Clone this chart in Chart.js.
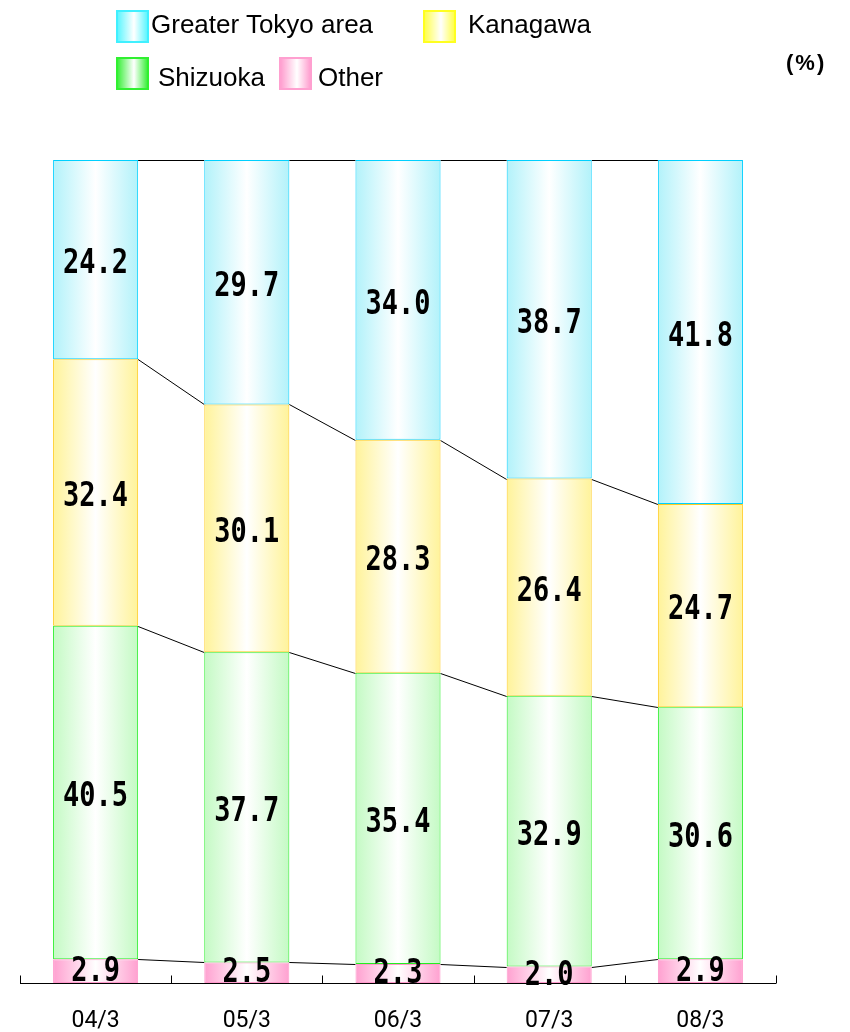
<!DOCTYPE html>
<html>
<head>
<meta charset="utf-8">
<script src="https://cdn.jsdelivr.net/npm/chart.js@4/dist/chart.umd.min.js"></script>
<style>
  html, body { margin: 0; padding: 0; background: #fff; }
  #wrap { position: relative; width: 850px; height: 1032px; overflow: hidden; }
  #c { position: absolute; left: 0; top: 0; }
  .lg-box { position: absolute; width: 33px; height: 33px; box-sizing: border-box; }
  .lg-txt { position: absolute; font-family: "Liberation Sans", Arial, sans-serif; font-size: 26px; color: #000; line-height: 30px; white-space: nowrap; }
  #unit { position: absolute; left: 786px; top: 49px; font-family: "Liberation Sans", Arial, sans-serif; font-size: 22px; font-weight: bold; letter-spacing: 2px; color: #000; line-height: 28px; }
</style>
</head>
<body>
<div id="wrap">
  <canvas id="c" width="850" height="1032"></canvas>
  <div class="lg-box" style="left:116px;top:10px;border:2px solid #40f0ff;background:linear-gradient(to right,#60f6ff,#ffffff 55%,#60f6ff);"></div>
  <div class="lg-txt" style="left:151px;top:9px;">Greater Tokyo area</div>
  <div class="lg-box" style="left:423px;top:10px;border:2px solid #ffff20;background:linear-gradient(to right,#ffff50,#ffffff 55%,#ffff50);"></div>
  <div class="lg-txt" style="left:468px;top:9px;">Kanagawa</div>
  <div class="lg-box" style="left:116px;top:57px;border:2px solid #30f030;background:linear-gradient(to right,#40f040,#ffffff 55%,#40f040);"></div>
  <div class="lg-txt" style="left:158px;top:62px;">Shizuoka</div>
  <div class="lg-box" style="left:279px;top:57px;border:2px solid #ffa0d0;background:linear-gradient(to right,#ffa0d0,#ffffff 55%,#ffa0d0);"></div>
  <div class="lg-txt" style="left:318px;top:62px;">Other</div>
  <div id="unit">(%)</div>
</div>
<script>
// ---- data ----
const categories = ["04/3", "05/3", "06/3", "07/3", "08/3"];
const seriesNames = ["Other", "Shizuoka", "Kanagawa", "Greater Tokyo area"];
const otherValues    = [2.9, 2.5, 2.3, 2.0, 2.9];
const shizuokaValues = [40.5, 37.7, 35.4, 32.9, 30.6];
const kanagawaValues = [32.4, 30.1, 28.3, 26.4, 24.7];
const tokyoValues    = [24.2, 29.7, 34.0, 38.7, 41.8];
const yMax = 100;

// ---- styles ----
const BAR_PCT = 0.5625;
const edgeColors   = ["#ffa0d0", "#c4fac4", "#fff39a", "#b2f2fa"];
const borderColors = ["#ff99cc", "#22ee22", "#ffcc22", "#00d0ff"];

function gradientFill(idx) {
  return function (ctx) {
    const chart = ctx.chart;
    const xs = chart.scales.x;
    if (!xs || !chart.chartArea) return edgeColors[idx];
    const cx = xs.getPixelForValue(ctx.dataIndex);
    const w = (xs.width / categories.length) * BAR_PCT;
    const g = chart.ctx.createLinearGradient(cx - w / 2, 0, cx + w / 2, 0);
    g.addColorStop(0, edgeColors[idx]);
    g.addColorStop(0.5, "#ffffff");
    g.addColorStop(1, edgeColors[idx]);
    return g;
  };
}

const valuesList = [otherValues, shizuokaValues, kanagawaValues, tokyoValues];
const datasets = valuesList.map((vals, i) => ({
  label: seriesNames[i],
  data: vals,
  backgroundColor: gradientFill(i),
  borderColor: borderColors[i],
  borderWidth: 1,
  borderSkipped: false,
  barPercentage: BAR_PCT,
  categoryPercentage: 1.0
}));

const connectorPlugin = {
  id: "connectors",
  beforeDatasetsDraw(chart) {
    const ctx = chart.ctx;
    ctx.save();
    ctx.strokeStyle = "#000";
    ctx.lineWidth = 1;
    chart.data.datasets.forEach((ds, d) => {
      const meta = chart.getDatasetMeta(d);
      for (let i = 0; i < meta.data.length - 1; i++) {
        const a = meta.data[i], b = meta.data[i + 1];
        ctx.beginPath();
        ctx.moveTo(a.x + a.width / 2, Math.round(a.y) + 0.5);
        ctx.lineTo(b.x - b.width / 2, Math.round(b.y) + 0.5);
        ctx.stroke();
      }
    });
    // axis line with inward ticks at category boundaries
    const xs = chart.scales.x;
    const area = chart.chartArea;
    const y0 = Math.round(area.bottom) + 0.5;
    ctx.beginPath();
    ctx.moveTo(area.left, y0);
    ctx.lineTo(area.right, y0);
    for (let i = 0; i <= categories.length; i++) {
      const x = Math.round(xs.getPixelForValue(i - 0.5)) + 0.5;
      ctx.moveTo(x, y0);
      ctx.lineTo(x, y0 - 8);
    }
    ctx.stroke();
    ctx.restore();
  }
};

const labelPlugin = {
  id: "segLabels",
  afterDatasetsDraw(chart) {
    const ctx = chart.ctx;
    ctx.save();
    ctx.fillStyle = "#000";
    ctx.font = "bold 27px 'DejaVu Sans Mono', monospace";
    ctx.textAlign = "center";
    ctx.textBaseline = "middle";
    chart.data.datasets.forEach((ds, d) => {
      const meta = chart.getDatasetMeta(d);
      meta.data.forEach((el, i) => {
        const cy = (el.y + el.base) / 2;
        const shift = d === 0 ? 0 : 4;
        ctx.save();
        ctx.translate(el.x, cy + shift);
        ctx.scale(1, 1.22);
        ctx.fillText(ds.data[i].toFixed(1), 0, 1);
        ctx.restore();
      });
    });
    ctx.restore();
  }
};

new Chart(document.getElementById("c"), {
  type: "bar",
  data: { labels: categories, datasets: datasets },
  options: {
    responsive: false,
    animation: false,
    layout: { padding: { left: 20, right: 74, top: 160, bottom: 0 } },
    plugins: { legend: { display: false }, tooltip: { enabled: false } },
    scales: {
      x: {
        stacked: true,
        grid: { display: false, drawTicks: false },
        border: { display: false },
        ticks: {
          color: "#000",
          padding: 24,
          font: { family: "Roboto, 'DejaVu Sans', sans-serif", size: 23 }
        },
        afterFit(scale) { scale.height = 49; }
      },
      y: {
        stacked: true,
        display: false,
        min: 0,
        max: yMax
      }
    }
  },
  plugins: [connectorPlugin, labelPlugin]
});
</script>
</body>
</html>
